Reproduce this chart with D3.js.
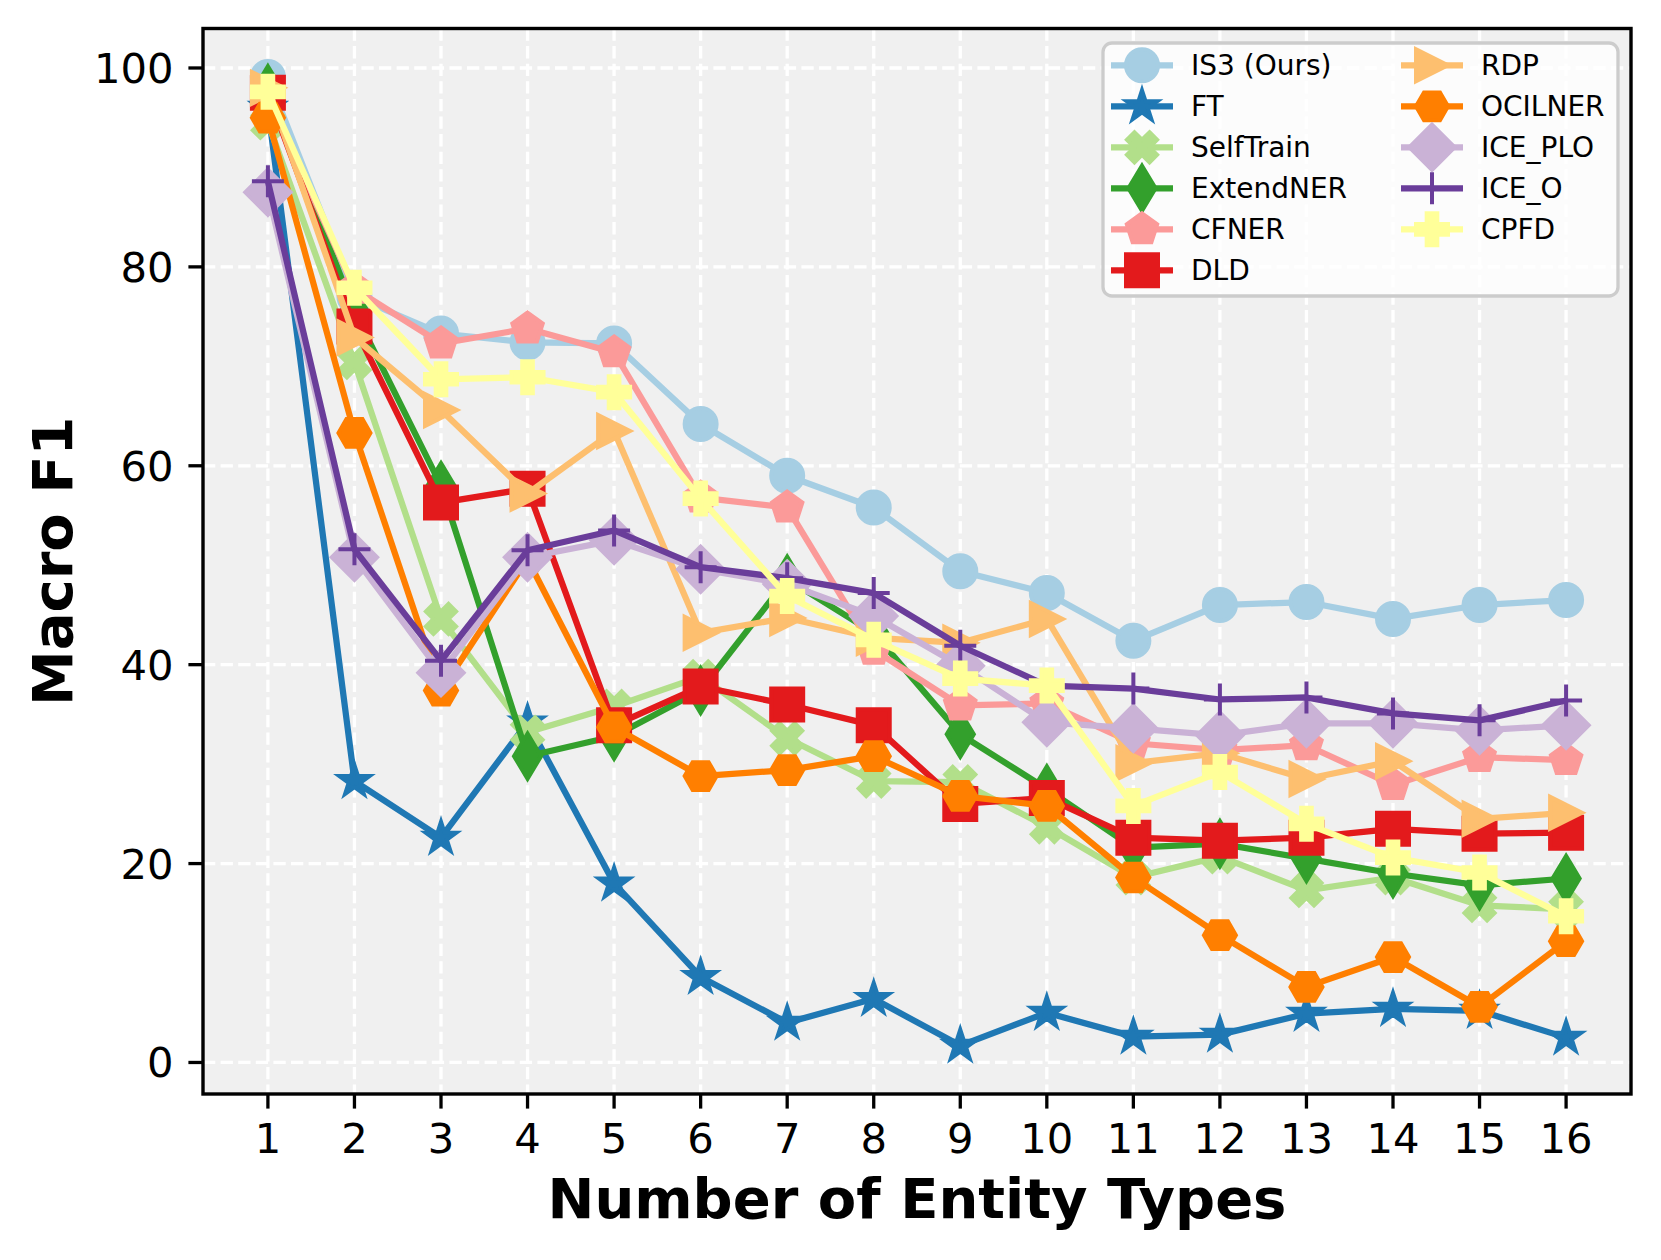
<!DOCTYPE html>
<html>
  <head>
    <meta charset="UTF-8" />
    <style>
      body {
        margin: 0;
        background: #fff;
      }
      svg {
        display: block;
        font-family: "DejaVu Sans", sans-serif;
      }
    </style>
  </head>
  <body>
    <svg></svg>
    <script src="https://d3js.org/d3.v7.min.js"></script>

    <script>
      // values
      const entityTypes = [1, 2, 3, 4, 5, 6, 7, 8, 9, 10, 11, 12, 13, 14, 15, 16];
      const yTicks = [0, 20, 40, 60, 80, 100];

      const methodNames = [
        "IS3 (Ours)", "FT", "SelfTrain", "ExtendNER", "CFNER", "DLD",
        "RDP", "OCILNER", "ICE_PLO", "ICE_O", "CPFD",
      ];

      const is3 = [99.1, 77.0, 73.3, 72.4, 72.3, 64.2, 59.0, 55.8, 49.4, 47.2, 42.4, 46.0, 46.3, 44.6, 46.0, 46.5];
      const ft = [96.0, 28.3, 22.6, 34.2, 18.0, 8.6, 4.0, 6.4, 1.7, 5.0, 2.6, 2.8, 4.9, 5.4, 5.2, 2.5];
      const selfTrain = [94.5, 70.4, 44.6, 33.2, 35.8, 38.8, 32.6, 28.3, 28.2, 23.7, 18.6, 20.7, 17.3, 18.6, 15.8, 15.4];
      const extendNER = [97.9, 75.5, 58.0, 30.8, 32.8, 37.4, 48.6, 43.2, 33.0, 27.5, 21.6, 22.0, 20.5, 19.0, 17.8, 18.5];
      const cfner = [97.0, 77.8, 72.3, 73.8, 71.4, 56.8, 55.8, 41.5, 35.9, 36.1, 32.1, 31.4, 31.9, 27.9, 30.7, 30.4];
      const dld = [97.5, 74.0, 56.3, 57.7, 33.9, 37.8, 36.0, 33.9, 26.0, 26.6, 22.6, 22.3, 22.6, 23.5, 23.0, 23.1];
      const rdp = [98.0, 72.9, 65.6, 57.2, 63.5, 43.2, 44.7, 42.7, 42.2, 44.6, 30.1, 31.1, 28.5, 30.3, 24.5, 25.1];
      const ocilner = [95.0, 63.3, 37.4, 50.6, 33.7, 28.8, 29.4, 30.8, 26.8, 25.8, 18.6, 12.8, 7.6, 10.6, 5.6, 12.2];
      const icePLO = [87.5, 50.8, 39.2, 50.8, 52.5, 49.6, 48.1, 44.9, 39.9, 34.2, 33.6, 32.9, 34.1, 34.1, 33.4, 33.9];
      const iceO = [88.6, 51.6, 40.4, 51.5, 53.5, 49.8, 48.7, 47.2, 41.9, 37.9, 37.6, 36.5, 36.7, 35.1, 34.4, 36.4];
      const cpfd = [97.6, 77.9, 68.7, 68.9, 67.4, 56.7, 46.9, 42.5, 38.6, 37.9, 25.8, 29.2, 24.0, 20.6, 19.1, 14.7];

      const seriesValues = [is3, ft, selfTrain, extendNER, cfner, dld, rdp, ocilner, icePLO, iceO, cpfd];

      // styles (matplotlib "Paired" colours + marker codes)
      const colors = [
        "#a6cee3", "#1f78b4", "#b2df8a", "#33a02c", "#fb9a99", "#e31a1c",
        "#fdbf6f", "#ff7f00", "#cab2d6", "#6a3d9a", "#ffff99",
      ];
      const markers = ["o", "*", "X", "d", "p", "s", ">", "H", "D", "+", "P"];

      let width = 1661,
        height = 1260;
      const plot = { left: 203, right: 1631, top: 28.5, bottom: 1094 };
      const markerSize = 32,
        edgeWidth = 4,
        lineWidth = 6.25;

      let svg = d3
        .select("svg")
        .attr("width", width)
        .attr("height", height)
        .attr("viewBox", "0 0 " + width + " " + height);

      // matplotlib style 5% margins
      const xExt = d3.extent(entityTypes);
      const xPad = (xExt[1] - xExt[0]) * 0.05;
      const x = d3
        .scaleLinear()
        .domain([xExt[0] - xPad, xExt[1] + xPad])
        .range([plot.left, plot.right]);

      const yExt = d3.extent(seriesValues.flat());
      const yPad = (yExt[1] - yExt[0]) * 0.05;
      const y = d3
        .scaleLinear()
        .domain([yExt[0] - yPad, yExt[1] + yPad])
        .range([plot.bottom, plot.top]);

      // marker shapes, roughly as matplotlib draws them
      function markerPath(m, s) {
        const h = s / 2;
        let pts = [];
        if (m == "o") {
          return `M${h},0A${h},${h} 0 1,1 ${-h},0A${h},${h} 0 1,1 ${h},0Z`;
        }
        if (m == "+") {
          return `M${-h},0H${h}M0,${-h}V${h}`;
        }
        if (m == "*") {
          for (let k = 0; k < 10; k++) {
            const r = k % 2 ? h * 0.381966 : h;
            const a = -Math.PI / 2 + (k * Math.PI) / 5;
            pts.push([r * Math.cos(a), r * Math.sin(a)]);
          }
        } else if (m == "p") {
          for (let k = 0; k < 5; k++) {
            const a = -Math.PI / 2 + (k * 2 * Math.PI) / 5;
            pts.push([h * Math.cos(a), h * Math.sin(a)]);
          }
        } else if (m == "H") {
          for (let k = 0; k < 6; k++) {
            const a = (k * Math.PI) / 3;
            pts.push([h * Math.cos(a), h * Math.sin(a)]);
          }
        } else if (m == "s") {
          pts = [[-h, -h], [h, -h], [h, h], [-h, h]];
        } else if (m == ">") {
          pts = [[h, 0], [-h, -h], [-h, h]];
        } else if (m == "D" || m == "d") {
          const d = s * Math.SQRT1_2;
          const w = m == "d" ? 0.6 * d : d;
          pts = [[0, -d], [w, 0], [0, d], [-w, 0]];
        } else if (m == "P" || m == "X") {
          const a = s / 6;
          pts = [
            [-a, -h], [a, -h], [a, -a], [h, -a], [h, a], [a, a],
            [a, h], [-a, h], [-a, a], [-h, a], [-h, -a], [-a, -a],
          ];
          if (m == "X") {
            const c = Math.SQRT1_2;
            pts = pts.map((p) => [c * (p[0] - p[1]), c * (p[0] + p[1])]);
          }
        }
        return "M" + pts.map((p) => p[0].toFixed(2) + "," + p[1].toFixed(2)).join("L") + "Z";
      }

      function drawMarker(sel, i) {
        sel
          .attr("d", markerPath(markers[i], markerSize))
          .attr("fill", markers[i] == "+" ? "none" : colors[i])
          .attr("stroke", colors[i])
          .attr("stroke-width", edgeWidth)
          .attr("stroke-linejoin", "miter");
      }

      // axes background
      svg
        .append("rect")
        .attr("x", plot.left)
        .attr("y", plot.top)
        .attr("width", plot.right - plot.left)
        .attr("height", plot.bottom - plot.top)
        .attr("fill", "#f0f0f0");

      // grid
      const grid = svg.append("g").attr("id", "grid");
      grid
        .selectAll(".gx")
        .data(entityTypes)
        .enter()
        .append("line")
        .attr("x1", (d) => x(d))
        .attr("x2", (d) => x(d))
        .attr("y1", plot.top)
        .attr("y2", plot.bottom);
      grid
        .selectAll(".gy")
        .data(yTicks)
        .enter()
        .append("line")
        .attr("x1", plot.left)
        .attr("x2", plot.right)
        .attr("y1", (d) => y(d))
        .attr("y2", (d) => y(d));
      grid
        .selectAll("line")
        .attr("stroke", "#ffffff")
        .attr("stroke-width", 3.3)
        .attr("stroke-dasharray", "12.3,5.3");

      // lines + markers
      const line = d3
        .line()
        .x((d, i) => x(entityTypes[i]))
        .y((d) => y(d));

      seriesValues.forEach((vals, i) => {
        const g = svg.append("g").attr("class", "series");
        g.append("path")
          .attr("d", line(vals))
          .attr("fill", "none")
          .attr("stroke", colors[i])
          .attr("stroke-width", lineWidth)
          .attr("stroke-linejoin", "round");
        g.selectAll("path.mk")
          .data(vals)
          .enter()
          .append("path")
          .attr("class", "mk")
          .attr("transform", (d, j) => `translate(${x(entityTypes[j])},${y(d)})`)
          .call(drawMarker, i);
      });

      // spines
      svg
        .append("rect")
        .attr("x", plot.left)
        .attr("y", plot.top)
        .attr("width", plot.right - plot.left)
        .attr("height", plot.bottom - plot.top)
        .attr("fill", "none")
        .attr("stroke", "#000")
        .attr("stroke-width", 3.4);

      // y ticks
      const yAxis = svg.append("g").attr("id", "yaxis");
      yAxis
        .selectAll("line")
        .data(yTicks)
        .enter()
        .append("line")
        .attr("x1", plot.left - 14.6)
        .attr("x2", plot.left)
        .attr("y1", (d) => y(d))
        .attr("y2", (d) => y(d))
        .attr("stroke", "#000")
        .attr("stroke-width", 3.3);
      yAxis
        .selectAll("text")
        .data(yTicks)
        .enter()
        .append("text")
        .attr("x", plot.left - 29.5)
        .attr("y", (d) => y(d) + 15)
        .attr("text-anchor", "end")
        .style("font-size", "41.7px")
        .text((d) => d);

      // x ticks
      const xAxis = svg.append("g").attr("id", "xaxis");
      xAxis
        .selectAll("line")
        .data(entityTypes)
        .enter()
        .append("line")
        .attr("x1", (d) => x(d))
        .attr("x2", (d) => x(d))
        .attr("y1", plot.bottom)
        .attr("y2", plot.bottom + 14.6)
        .attr("stroke", "#000")
        .attr("stroke-width", 3.3);
      xAxis
        .selectAll("text")
        .data(entityTypes)
        .enter()
        .append("text")
        .attr("x", (d) => x(d))
        .attr("y", plot.bottom + 59)
        .attr("text-anchor", "middle")
        .style("font-size", "41.7px")
        .text((d) => d);

      // axis titles
      svg
        .append("text")
        .attr("x", (plot.left + plot.right) / 2)
        .attr("y", 1218)
        .attr("text-anchor", "middle")
        .style("font-size", "56px")
        .style("font-weight", "bold")
        .text("Number of Entity Types");

      svg
        .append("text")
        .attr("transform", `translate(72,${(plot.top + plot.bottom) / 2}) rotate(-90)`)
        .attr("text-anchor", "middle")
        .style("font-size", "56px")
        .style("font-weight", "bold")
        .text("Macro F1");

      // legend, two columns
      const legend = svg.append("g").attr("id", "legend");
      legend
        .append("rect")
        .attr("x", 1103)
        .attr("y", 43)
        .attr("width", 515)
        .attr("height", 253)
        .attr("rx", 9)
        .attr("fill", "#fff")
        .attr("fill-opacity", 0.8)
        .attr("stroke", "#cccccc")
        .attr("stroke-width", 3.3);

      const rows = 6;
      const item = legend
        .selectAll("g.item")
        .data(methodNames)
        .enter()
        .append("g")
        .attr("class", "item")
        .attr("transform", (d, i) => {
          const col = Math.floor(i / rows),
            row = i % rows;
          return `translate(${1142 + col * 290},${65.3 + row * 41})`;
        });
      item
        .append("line")
        .attr("x1", -31)
        .attr("x2", 31)
        .attr("stroke", (d, i) => colors[i])
        .attr("stroke-width", lineWidth);
      item.each(function (d, i) {
        d3.select(this).append("path").call(drawMarker, i);
      });
      item
        .append("text")
        .attr("x", 49)
        .attr("y", 10)
        .style("font-size", "28px")
        .text((d) => d);
    </script>
  </body>
</html>
